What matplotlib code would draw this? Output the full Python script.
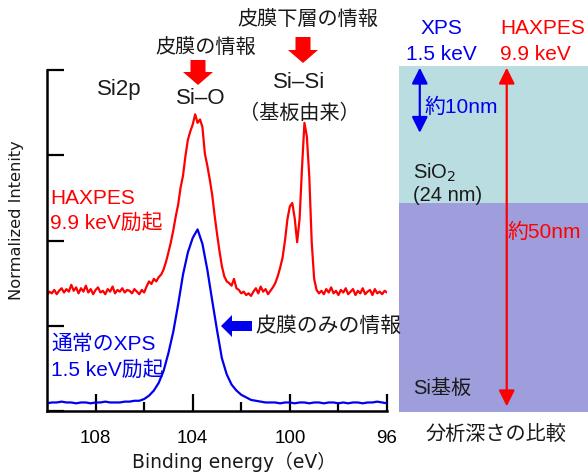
import numpy as np
import matplotlib
matplotlib.use('Agg')
import matplotlib.pyplot as plt
from matplotlib.patches import FancyArrow

plt.rcParams['font.family'] = ['Liberation Sans', 'Noto Sans CJK JP']

W, H = 588, 473

# binding energy grids (eV)
e_red = np.round(np.arange(110.0, 95.95, -0.1), 2)
e_blue = np.round(np.arange(110.0, 95.9, -0.2), 2)

# HAXPES 9.9 keV (offset, normalized)
haxpes = [
    1.36, 1.40, 1.38, 1.42, 1.37, 1.41, 1.44, 1.39, 1.43, 1.40,
    1.48, 1.41, 1.45, 1.38, 1.44, 1.40, 1.47, 1.39, 1.43, 1.37,
    1.42, 1.45, 1.39, 1.41, 1.37, 1.43, 1.40, 1.46, 1.38, 1.42,
    1.40, 1.44, 1.39, 1.42, 1.41, 1.38, 1.43, 1.40, 1.37, 1.42,
    1.39, 1.46, 1.52, 1.49, 1.55, 1.52, 1.57, 1.60, 1.66, 1.75,
    1.86, 1.98, 2.12, 2.28, 2.42, 2.62, 2.76, 2.99, 3.18, 3.28,
    3.36, 3.48, 3.38, 3.42, 3.33, 3.02, 2.88, 2.72, 2.54, 2.30,
    2.08, 1.88, 1.70, 1.58, 1.52, 1.50, 1.47, 1.55, 1.44, 1.42,
    1.38, 1.40, 1.36, 1.38, 1.35, 1.40, 1.44, 1.38, 1.46, 1.40,
    1.43, 1.37, 1.41, 1.45, 1.50, 1.58, 1.68, 1.80, 2.00, 2.25,
    2.40, 2.44, 2.26, 1.98, 2.25, 2.85, 3.38, 3.22, 2.75, 1.98,
    1.55, 1.42, 1.38, 1.41, 1.37, 1.43, 1.39, 1.45, 1.38, 1.41,
    1.36, 1.42, 1.39, 1.44, 1.37, 1.40, 1.43, 1.36, 1.41, 1.38,
    1.44, 1.37, 1.40, 1.42, 1.36, 1.43, 1.38, 1.40, 1.37, 1.41,
    1.39,
]

# conventional XPS 1.5 keV
xps = [
    0.09, 0.10, 0.10, 0.11, 0.10, 0.10, 0.09, 0.10, 0.10, 0.09,
    0.10, 0.10, 0.11, 0.10, 0.10, 0.10, 0.11, 0.11, 0.12, 0.12,
    0.14, 0.18, 0.24, 0.33, 0.47, 0.68, 0.93, 1.25, 1.60, 1.86,
    2.03, 2.13, 1.96, 1.66, 1.30, 0.95, 0.62, 0.43, 0.31, 0.24,
    0.19, 0.16, 0.13, 0.12, 0.11, 0.10, 0.10, 0.10, 0.09, 0.10,
    0.10, 0.09, 0.10, 0.10, 0.09, 0.10, 0.10, 0.09, 0.10, 0.10,
    0.09, 0.10, 0.09, 0.10, 0.10, 0.09, 0.10, 0.10, 0.11, 0.10,
    0.09,
]

x_major = [108, 104, 100, 96]
x_minor = [106, 102, 98]

# depth panel (nm)
sio2_nm = 24
panel_nm = 60.6
xps_depth = 11.7
haxpes_depth = 59.6

fig = plt.figure(figsize=(W / 100, H / 100), dpi=100)


def box(x0, y0, x1, y1):
    return [x0 / W, 1 - y1 / H, (x1 - x0) / W, (y1 - y0) / H]


ax = fig.add_axes(box(47, 70, 387, 411))
ax.plot(e_red, haxpes, color='#ff0000', lw=1.6)
ax.plot(e_blue, xps, color='#0000ee', lw=1.6)
ax.set_xlim(110, 96)
ax.set_ylim(0, 4)
ax.set_yticks([0, 1, 2, 3, 4])
ax.set_yticklabels([])
ax.set_xticks(x_major)
ax.set_xticks(x_minor, minor=True)
ax.set_xticklabels([str(v) for v in x_major], fontsize=13.5)
ax.tick_params(axis='both', which='major', direction='in', length=12, width=1.6)
ax.tick_params(axis='x', which='minor', direction='in', length=6.5, width=1.6)
ax.tick_params(axis='x', pad=14)
for s in ['top', 'right']:
    ax.spines[s].set_visible(False)
for s in ['left', 'bottom']:
    ax.spines[s].set_linewidth(1.8)
ax.patch.set_alpha(0)

# depth panel
ax2 = fig.add_axes(box(399, 66, 588, 412))
ax2.set_xlim(0, 1)
ax2.set_ylim(panel_nm, 0)
ax2.axis('off')
ax2.axhspan(0, sio2_nm, color='#b9dde0', lw=0)
ax2.axhspan(sio2_nm, panel_nm, color='#9e9edd', lw=0)
ax2.annotate('', xy=(0.11, 0.3), xytext=(0.11, xps_depth),
             arrowprops=dict(arrowstyle='<|-|>', color='#0000ee', lw=1.6,
                             mutation_scale=24, shrinkA=0, shrinkB=0))
ax2.annotate('', xy=(0.57, 0.3), xytext=(0.57, haxpes_depth),
             arrowprops=dict(arrowstyle='<|-|>', color='#ff0000', lw=1.6,
                             mutation_scale=24, shrinkA=0, shrinkB=0))

# overlay in pixel coords for labels
ov = fig.add_axes([0, 0, 1, 1])
ov.set_xlim(0, W)
ov.set_ylim(H, 0)
ov.axis('off')
ov.patch.set_alpha(0)

k = '#1a1a1a'
fs = 14.5


def t(x, y, s, c=k, ha='left', size=fs, **kw):
    ov.text(x, y, s, color=c, ha=ha, va='center', fontsize=size, **kw)


t(308, 20, '皮膜下層の情報', ha='center')
t(206, 48, '皮膜の情報', ha='center')
t(97, 90, 'Si2p', size=16)
t(201, 98, 'Si–O', ha='center', size=16)
t(299, 83, 'Si–Si', ha='center', size=16)
t(299, 113, '（基板由来）', ha='center')
t(50, 198, 'HAXPES', c='#ff0000', size=15)
t(50, 223, '9.9 keV励起', c='#ff0000', size=15)
t(51, 344, '通常のXPS', c='#0000ee', size=15)
t(51, 370, '1.5 keV励起', c='#0000ee', size=15)
t(255, 326, '皮膜のみの情報', size=15)

ov.add_patch(FancyArrow(198, 60, 0, 25, width=15, head_width=30, head_length=13,
                        length_includes_head=True, color='#ff0000', lw=0))
ov.add_patch(FancyArrow(303, 37, 0, 26, width=15, head_width=30, head_length=13,
                        length_includes_head=True, color='#ff0000', lw=0))
ov.add_patch(FancyArrow(252, 326, -31, 0, width=10, head_width=22, head_length=11,
                        length_includes_head=True, color='#0000ee', lw=0))

t(441, 29, 'XPS', c='#0000ee', ha='center', size=15)
t(441, 55, '1.5 keV', c='#0000ee', ha='center', size=15)
t(500, 29, 'HAXPES', c='#ff0000', size=15)
t(500, 55, '9.9 keV', c='#ff0000', size=15)
t(425, 107, '約10nm', c='#0000ee', size=15)
t(413, 173, 'SiO$_2$', size=14.5)
t(413, 195, '(24 nm)', size=14.5)
t(508, 232, '約50nm', c='#ff0000', size=15)
t(413, 388, 'Si基板', size=14.5)
t(496, 435, '分析深さの比較', ha='center')

ov.text(234, 462, 'Binding energy（eV）', ha='center', va='center', fontsize=13.5,
        color=k, family=['DejaVu Sans', 'Noto Sans CJK JP'])
ov.text(17, 220, 'Normalized Intenity', ha='center', va='center', fontsize=11.7,
        color=k, rotation=90, family=['DejaVu Sans'])

fig.savefig('out.png', dpi=100)
